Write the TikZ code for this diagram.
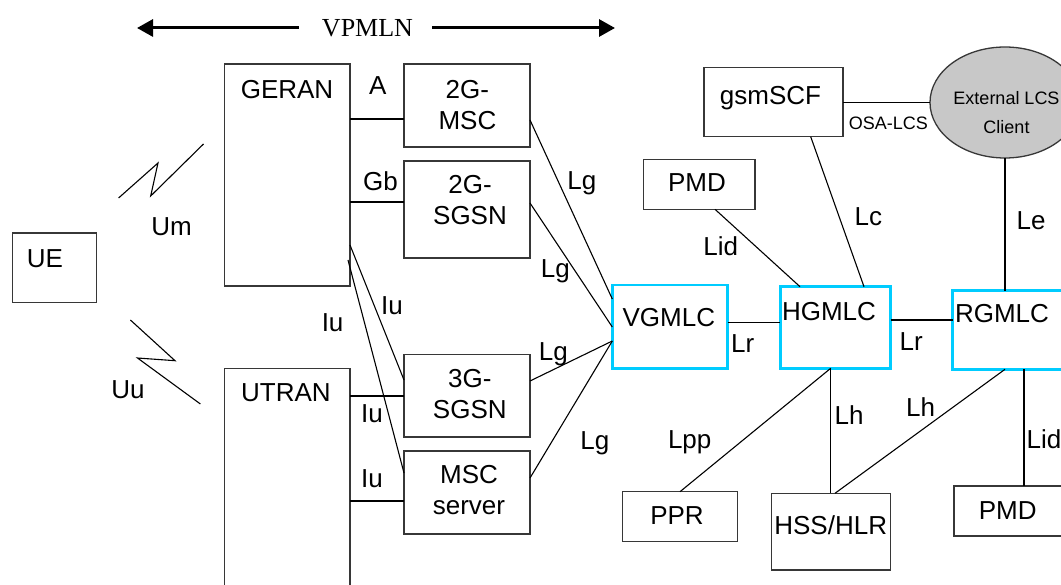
\documentclass[tikz,border=0pt]{standalone}
\usepackage{fontspec}
\setmainfont{Liberation Sans}
\newfontfamily\serifvp{Liberation Serif}
\usetikzlibrary{arrows.meta,shapes.geometric,calc}
\definecolor{cyanb}{RGB}{0,204,255}
\definecolor{boxgray}{RGB}{55,55,55}
\definecolor{clientgray}{RGB}{200,200,200}
\tikzset{
  box/.style={draw=boxgray, line width=1.3pt, inner sep=0pt, outer sep=0pt},
  gbox/.style={draw=cyanb, line width=2.6pt, inner sep=0pt, outer sep=0pt},
  t/.style={font=\fontsize{26}{31}\selectfont, inner sep=0pt, text height=18.6pt, text depth=0pt},
  tt/.style={font=\fontsize{26}{31}\selectfont, inner sep=0pt, align=center},
  s/.style={font=\fontsize{18}{29}\selectfont, inner sep=0pt, text height=13pt, text depth=0pt},
  ss/.style={font=\fontsize{18}{29}\selectfont, inner sep=0pt, align=center},
  link/.style={line width=1.1pt, black},
  bigarr/.style={line width=3pt, -{Triangle[length=16pt,width=17pt]}},
}
\begin{document}
\begin{tikzpicture}[x=1pt,y=-1pt]
\useasboundingbox (0,0) rectangle (1061,585);
\fill[white] (0,0) rectangle (1061,585);

% VPMLN
\node[font=\serifvp\fontsize{26}{31}\selectfont, inner sep=0pt, text height=17.2pt, text depth=0pt] (vp) at (367.5,28) {VPMLN};
\coordinate (vpl) at (137,28);
\coordinate (vpr) at (615,28);
\draw[bigarr] ([xshift=-23pt]vp.west) -- (vpl);
\draw[bigarr] ([xshift=19pt]vp.east) -- (vpr);

% boxes
\node[box, minimum width=83.8pt, minimum height=69.7pt] (ue) at (54.5,267.85) {};
\node[box, minimum width=125.5pt, minimum height=222pt] (geran) at (287.25,175) {};
\node[box, minimum width=125.5pt, minimum height=251.3pt] (utran) at (287.25,494.35) {};
\node[box, minimum width=126pt, minimum height=83pt] (msc2) at (467,105.5) {};
\node[box, minimum width=126pt, minimum height=97pt] (sgsn2) at (467,209.5) {};
\node[box, minimum width=126pt, minimum height=82.3pt] (sgsn3) at (467,395.85) {};
\node[box, minimum width=126pt, minimum height=83pt] (mscs) at (467,492.5) {};
\node[box, minimum width=139pt, minimum height=69pt] (gsmscf) at (773.5,102.2) {};
\node[ellipse, draw=boxgray, line width=1.3pt, fill=clientgray, inner sep=0pt, outer sep=0pt, minimum width=150pt, minimum height=111pt] (client) at (1005,102.5) {};
\node[box, minimum width=111.7pt, minimum height=50pt] (pmd1) at (699.15,184.3) {};
\node[gbox, minimum width=115.4pt, minimum height=83.3pt] (vgmlc) at (670,326.65) {};
\node[gbox, minimum width=110.4pt, minimum height=81.6pt] (hgmlc) at (835.5,327.5) {};
\node[gbox, minimum width=122.3pt, minimum height=78.6pt] (rgmlc) at (1013.85,330) {};
\node[box, minimum width=114.6pt, minimum height=50pt] (ppr) at (680,516.7) {};
\node[box, minimum width=119pt, minimum height=76.7pt] (hss) at (831.2,531.65) {};
\node[box, minimum width=121pt, minimum height=50pt] (pmd2) at (1014.5,511) {};

% box texts
\node[t] (uet) at (45,258) {UE};
\node[t] (gerant) at (287,89.3) {GERAN};
\node[t] (utrant) at (286,392.7) {UTRAN};
\node[tt] (msc2t) at (467.4,105) {2G-\\MSC};
\node[tt] (sgsn2t) at (470,200.5) {2G-\\SGSN};
\node[tt] (sgsn3t) at (469.8,394.5) {3G-\\SGSN};
\node[tt] (mscst) at (469,490.5) {MSC\\server};
\node[t] (gsmscft) at (770.5,95) {gsmSCF};
\node[ss] (clientt) at (1006.5,112.8) {External LCS\\Client};
\node[t] (pmd1t) at (697,182.7) {PMD};
\node[t] (vgmlct) at (668.8,317.3) {VGMLC};
\node[t] (hgmlct) at (829,311.7) {HGMLC};
\node[t] (rgmlct) at (1002,313.3) {RGMLC};
\node[t] (pprt) at (677,515) {PPR};
\node[t] (hsst) at (830.7,525) {HSS/HLR};
\node[t] (pmd2t) at (1007.7,510) {PMD};

% radio links
\draw[link] (118.6,198) -- (158,163) -- (150.7,196) -- (203.5,144);
\draw[link] (130.4,320) -- (175,360.7) -- (137.5,358) -- (200.4,404);

% connectors
\draw[link] (geran.east |- 0,119) -- (msc2.west |- 0,119);
\draw[link] (geran.east |- 0,202) -- (sgsn2.west |- 0,202);
\draw[link] (utran.east |- 0,396) -- (sgsn3.west |- 0,396);
\draw[link] (utran.east |- 0,501) -- (mscs.west |- 0,501);
\draw[link] (geran.east |- 0,245) -- (sgsn3.west |- 0,380);
\draw[link] ($(geran.east |- 0,260)+(-2,0)$) -- (mscs.west |- 0,473);
\draw[link] (msc2.east |- 0,120) -- (vgmlc.west |- 0,299);
\draw[link] (sgsn2.east |- 0,203) -- (vgmlc.west |- 0,327);
\draw[link] (sgsn3.east |- 0,381) -- (vgmlc.west |- 0,341);
\draw[link] (mscs.east |- 0,478) -- (vgmlc.west |- 0,341);
\draw[link] (vgmlc.east |- 0,322.5) -- (hgmlc.west |- 0,322.5);
\draw[link] (hgmlc.east |- 0,320) -- (rgmlc.west |- 0,320);
\draw[link] (gsmscf.east |- client.west) -- (client.west);
\draw[link] (810.7,0 |- gsmscf.south) -- (864,0 |- hgmlc.north);
\draw[link] (715,0 |- pmd1.south) -- (800,0 |- hgmlc.north);
\draw[link] (client.south) -- (client.south |- rgmlc.north);
\draw[link] (830.7,0 |- hgmlc.south) -- (ppr.north);
\draw[link] (830.7,0 |- hgmlc.south) -- (830.7,0 |- hss.north);
\draw[link] (1005,0 |- rgmlc.south) -- (835,0 |- hss.north);
\draw[link] (1024,0 |- rgmlc.south) -- (1024,0 |- pmd2.north);

% labels
\node[t] (lA) at (377.8,85) {A};
\node[t] (lGb) at (380.4,181.7) {Gb};
\node[t] (lUm) at (171.5,226.7) {Um};
\node[t] (lUu) at (127.9,389.3) {Uu};
\node[t] (lIu1) at (392,305) {Iu};
\node[t] (lIu2) at (332.6,322.7) {Iu};
\node[t] (lIu3) at (372,413.3) {Iu};
\node[t] (lIu4) at (372,478.3) {Iu};
\node[t] (lLg1) at (581.8,180) {Lg};
\node[t] (lLg2) at (555.3,268.3) {Lg};
\node[t] (lLg3) at (553.3,351.7) {Lg};
\node[t] (lLg4) at (594.9,440) {Lg};
\node[t] (lLr1) at (742.8,343.3) {Lr};
\node[t] (lLr2) at (911.3,341.7) {Lr};
\node[s] (lOsa) at (888.3,122.7) {OSA-LCS};
\node[t] (lLc) at (868.3,216.7) {Lc};
\node[t] (lLid1) at (720.8,246.7) {Lid};
\node[t] (lLe) at (1031,220) {Le};
\node[t] (lLh1) at (849.2,415) {Lh};
\node[t] (lLh2) at (920.5,407.3) {Lh};
\node[t] (lLpp) at (689.7,439.3) {Lpp};
\node[t] (lLid2) at (1044,439.3) {Lid};
\end{tikzpicture}
\end{document}
